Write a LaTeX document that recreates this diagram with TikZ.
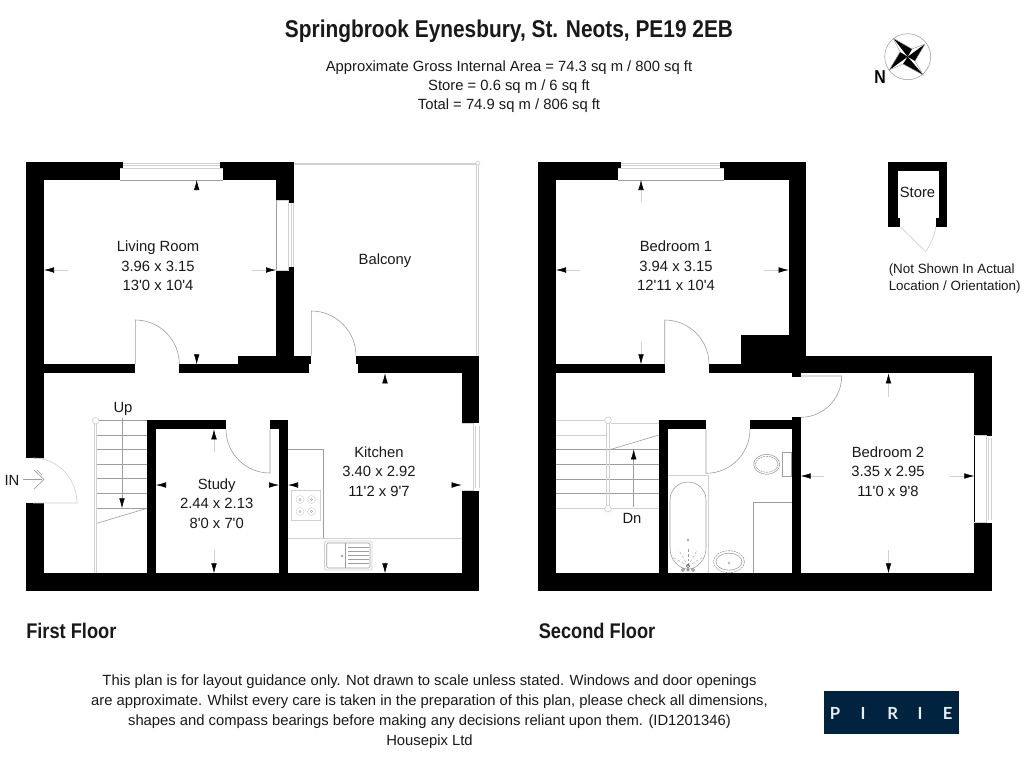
\documentclass[tikz,border=0pt]{standalone}
\usepackage{fontspec}
\usetikzlibrary{arrows.meta}
\newfontfamily\plainsans{Liberation Sans}
\newfontfamily\plainbold{Liberation Sans Bold}
\newfontfamily\logofont{Lato}
\definecolor{thinline}{gray}{0.62}
\definecolor{paleline}{gray}{0.82}
\definecolor{logoblue}{HTML}{00233F}
\newcommand{\wallrect}[4]{\fill[black] (#1,#2) rectangle (#3,#4);}
\newcommand{\gaprect}[4]{\fill[white] (#1,#2) rectangle (#3,#4);}
\newcommand{\dimarrow}[4]{\draw[dimline] (#1,#2) -- (#3,#4);}
\tikzset{
  x=0.75pt,y=-0.75pt,
  dimline/.style={draw=paleline,line width=0.4pt,-{Latex[black,length=7.5pt,width=4.2pt]}},
  thin line/.style={draw=thinline,line width=0.45pt},
  pale line/.style={draw=paleline,line width=0.5pt},
  room/.style={font=\plainsans\fontsize{11.1}{14.6}\selectfont,align=center,inner sep=0pt,text=black!90},
  notetext/.style={font=\plainsans\fontsize{10.05}{13.4}\selectfont,align=left,inner sep=0pt,text=black!90},
  head/.style={font=\plainsans\fontsize{11.1}{14.3}\selectfont,align=center,inner sep=0pt,text=black!90},
  floor/.style={font=\plainbold\fontsize{15.9}{18}\selectfont,inner sep=0pt,text=black!90},
  foot/.style={font=\plainsans\fontsize{11.1}{15}\selectfont,align=center,inner sep=0pt,text=black!90},
  logoletter/.style={font=\logofont\bfseries\fontsize{12.5}{13}\selectfont,text=white!92!logoblue,inner sep=0pt},
}
\begin{document}
\begin{tikzpicture}
\useasboundingbox (0,0) rectangle (1024,768);
\fill[white] (0,0) rectangle (1024,768);

% ---- First floor walls
\wallrect{26}{162.3}{44}{591}
\wallrect{26}{162.3}{293.7}{180}
\wallrect{276}{162.3}{293.7}{373.3}
\wallrect{44}{364.3}{135.3}{373.3}
\wallrect{179.3}{364.3}{237.7}{373.3}
\wallrect{237.7}{355.7}{308.7}{373.3}
\wallrect{293.7}{355.7}{311.3}{364.3}
\wallrect{358}{364}{479.3}{373.3}
\wallrect{356}{355.7}{479.3}{364.3}
\wallrect{461.7}{355.7}{479.3}{591}
\wallrect{26}{573.3}{479.3}{591}
\wallrect{147}{420.3}{156}{573.3}
\wallrect{147}{420.3}{226}{429.3}
\wallrect{270}{420.3}{288}{429.3}
\wallrect{279}{420.3}{288}{573.3}
% first floor openings
\gaprect{120}{168.3}{223}{180}
\gaprect{123.3}{162}{220}{168.3}
\draw[thin line] (120,180)--(223,180);
\draw[pale line] (123.3,163)--(220,163) (123.3,165.5)--(220,165.5) (120,168.3)--(223,168.3);
\gaprect{276.3}{200}{288}{270}
\gaprect{288}{203}{294}{267}
\draw[pale line] (276.3,200)--(288,200)--(288,270)--(276.3,270) (291,203)--(291,267) (293.7,203)--(293.7,267);
\draw[thin line] (276,200)--(276,270);
\gaprect{26}{458}{32}{503}
\gaprect{32}{458}{44}{503}
\draw[pale line] (33,458)--(44,458);
\gaprect{462}{423.3}{480}{490.7}
\draw[pale line] (461.7,423.3)--(473,423.3)--(473,490.7)--(461.7,490.7) (475.5,426)--(475.5,488) (479,426)--(479,488);
% balcony
\draw[pale line] (293.7,163)--(478,163) (293.7,164.5)--(476.5,164.5) (478,163)--(478,355.7) (476.5,164.5)--(476.5,355.7);
\draw[pale line,fill=white] (478,163) circle (2);
% doors
\draw[thin line] (135.3,364.3)--(135.3,320) .. controls (159.6,320) and (179.3,339.7) .. (179.3,364.3);
\draw[thin line] (311.3,355.7)--(311.3,311) .. controls (335.6,311) and (356,331) .. (356,355.7);
\draw[pale line] (33,503)--(77,503) .. controls (77,478) and (57.3,458) .. (33,458);
\draw[thin line] (270,429.3)--(270,473) .. controls (245.7,473) and (226,453.6) .. (226,429.3);
% stairs first floor
\draw[pale line] (94,573.3)--(94,423) (96.7,573.3)--(96.7,423);
\draw[thin line] (95.7,420.7)--(147,420.7);
\draw[paleline,line width=0.5pt,fill=white] (95.7,420.7) circle (3.3);
\foreach \yy in {435,449.3,464.3,478.7,493.3,508.3} {\draw[thin line] (97,\yy)--(147,\yy);}
\draw[thin line] (97,523.3)--(147,508.3);
\draw[draw=thinline,line width=0.4pt,-{Latex[black,length=7.5pt,width=4.2pt]}] (122,418)--(122,508.3);
% kitchen fittings
\draw[thin line] (288,449.3)--(323.3,449.3)--(323.3,538.3);
\draw[pale line] (288,538.3)--(461.7,538.3);
\draw[pale line] (291.7,490.7) rectangle (320.7,520);
\foreach \xx/\yy in {300/499.5,311.5/499.5,300/511.5,311.5/511.5} {
  \draw[paleline,line width=0.35pt] (\xx,\yy) circle (4);
  \draw[thinline,line width=0.3pt] (\xx,\yy) circle (1.2);
}
\draw[pale line,rounded corners=1.5pt] (324.5,541) rectangle (372,570);
\draw[thin line,rounded corners=1pt] (326.7,543) rectangle (370,568);
\draw[thin line] (345.7,543)--(345.7,568);
\foreach \yy in {547,551,555,559,563} {\draw[thin line] (348,\yy)--(369,\yy);}
\draw[thinline,line width=0.3pt] (342,556) circle (1);
% dimension arrows first floor
\dimarrow{196.7}{190}{196.7}{180}
\dimarrow{196.7}{354}{196.7}{364.3}
\dimarrow{68}{270}{44}{270}
\dimarrow{252}{270}{276}{270}
\dimarrow{214}{452}{214}{429.3}
\dimarrow{214}{550}{214}{573.3}
\dimarrow{167}{485}{156}{485}
\dimarrow{268}{485}{279}{485}
\dimarrow{385}{384}{385}{373.3}
\dimarrow{385}{562}{385}{573.3}
\dimarrow{299}{485}{288}{485}
\dimarrow{451}{485}{461.7}{485}
% IN arrow
\draw[thinline,line width=0.5pt] (23,479.5)--(42,479.5) (34,470)--(44,479.5)--(34,489) (37,470)--(42,475);

% ---- Second floor walls
\wallrect{538.3}{162.3}{556}{591}
\wallrect{538.3}{162.3}{806.3}{180}
\wallrect{788.7}{162.3}{806.3}{373.3}
\wallrect{741.3}{335}{806.3}{373.3}
\wallrect{556}{364.3}{664.7}{373.3}
\wallrect{709}{364.3}{741.3}{373.3}
\wallrect{791.7}{355.7}{991.7}{373.3}
\wallrect{791.7}{373}{800.7}{376.7}
\wallrect{974.3}{355.7}{991.7}{591}
\wallrect{538.3}{573.3}{991.7}{591}
\wallrect{659}{420}{667.7}{573.3}
\wallrect{659}{420}{705.7}{429.3}
\wallrect{750}{420}{791.7}{429.3}
\wallrect{791.7}{417.3}{800.7}{573.3}
% second floor openings
\gaprect{618}{168.3}{723.7}{180}
\gaprect{621.3}{162}{720.3}{168.3}
\draw[thin line] (618,180)--(723.7,180);
\draw[pale line] (621.3,163)--(720.3,163) (621.3,165.5)--(720.3,165.5) (618,168.3)--(723.7,168.3);
\gaprect{975}{435.7}{992}{522.7}
\draw[pale line] (974.3,435.7)--(986,435.7)--(986,522.7)--(974.3,522.7) (988.5,438)--(988.5,520) (991.5,438)--(991.5,520);
% doors
\draw[thin line] (664.7,364.3)--(664.7,320) .. controls (689,320) and (709,339.7) .. (709,364.3);
\draw[thin line] (800.7,376)--(841.7,376) .. controls (841.7,399) and (823,417.3) .. (800.7,417.3);
\draw[thin line] (706,429.3)--(706,473.3) .. controls (730.3,473.3) and (750,453.6) .. (750,429.3);
% stairs second floor
\draw[pale line] (556,420.3)--(605,420.3) (611,423)--(659,423) (556,435)--(606,435);
\foreach \yy in {449.3,464.3,479,493.3} {\draw[thin line] (556,\yy)--(659,\yy);}
\draw[pale line] (556,508.3)--(659,508.3);
\draw[thin line] (611,449.3)--(659,435);
\draw[paleline,line width=0.5pt] (606.2,420.3)--(606.2,508.7) (609.8,420.3)--(609.8,508.7);
\draw[paleline,line width=0.5pt,fill=white] (608,420.3) circle (3.3);
\draw[paleline,line width=0.5pt,fill=white] (608,508.7) circle (3.3);
\draw[draw=thinline,line width=0.4pt,-{Latex[black,length=7.5pt,width=4.2pt]}] (633.7,506.7)--(633.7,449.3);
% bathroom
\draw[pale line] (667.7,475)--(708.3,475)--(708.3,573.3);
\draw[thin line] (670,548) -- (670,500) .. controls (670,490) and (678,482) .. (688,482) .. controls (698,482) and (706,490) .. (706,500) -- (706,548) .. controls (706,560) and (697,569) .. (688,569) .. controls (679,569) and (670,560) .. (670,548) -- cycle;
\draw[thinline,line width=0.35pt] (688,540) circle (1.3);
\foreach \a in {-60,-30,0,30,60} {\draw[thinline,line width=0.3pt,dash pattern=on 2pt off 1.5pt] (688,566) -- ++({\a-90}:17);}
\draw[black!60,line width=0.4pt] (683,570) circle (1.5) (693,570) circle (1.5) (688,566) circle (1.7) (688,570) circle (1.2);
\draw[thin line,dash pattern=on 1.5pt off 0.6pt] (729,561.7) ellipse (15.5 and 11);
\draw[thin line] (729,561.7) ellipse (13 and 8.5);
\draw[thinline,line width=0.3pt] (729,563) circle (1.2);
\draw[thin line] (766.7,464.3) ellipse (13 and 10);
\draw[thin line,dash pattern=on 1.5pt off 0.6pt] (766.7,464.3) ellipse (11.3 and 8);
\draw[thin line] (782.3,452.3) rectangle (791.7,476);
\draw[thin line] (791.7,502.3)--(753.3,502.3)--(753.3,573.3);
% dimension arrows second floor
\dimarrow{641}{202}{641}{180}
\dimarrow{641}{342}{641}{364.3}
\dimarrow{580}{270}{556}{270}
\dimarrow{764}{270}{788.7}{270}
\dimarrow{888.5}{397}{888.5}{373.3}
\dimarrow{888.5}{550}{888.5}{573.3}
\dimarrow{824}{476}{800.7}{476}
\dimarrow{950}{476}{974.3}{476}

% ---- Store
\wallrect{888.3}{162.3}{947.3}{226.7}
\gaprect{897.7}{171}{938.7}{218.3}
\gaprect{900.3}{218}{935.7}{227}
\draw[pale line] (900.3,226.7)--(925.7,251.7) .. controls (930,245) and (935,236) .. (935.7,226.7);

% ---- Compass
\draw[thinline,line width=0.4pt] (907.7,56.7) circle (23);
\fill[black] (907.7,56.7)--(893.3,38.3)--(912,49)--cycle;
\fill[black] (907.7,56.7)--(925,44)--(915,61)--cycle;
\fill[black] (907.7,56.7)--(923.3,75)--(903,64)--cycle;
\fill[black] (907.7,56.7)--(889.3,70)--(900,52)--cycle;
\draw[thinline,line width=0.35pt] (893.3,38.3)--(900,52)--(889.3,70)--(903,64)--(923.3,75)--(915,61)--(925,44)--(912,49)--cycle;
\node[font=\plainbold\fontsize{14}{14}\selectfont,inner sep=0pt] (north) at (880,77) {\scalebox{0.85}[1]{N}};

% ---- Texts
\node[inner sep=0pt,font=\plainbold\fontsize{18.2}{20}\selectfont,text=black!90] (title) at (509,31) {\scalebox{0.86}[1]{Springbrook Eynesbury, St. Neots, PE19 2EB}};
\node[head] (area) at (509,86.5) {Approximate Gross Internal Area = 74.3 sq m / 800 sq ft\\Store = 0.6 sq m / 6 sq ft\\Total = 74.9 sq m / 806 sq ft};
\node[room] (living) at (158,266) {Living Room\\3.96 x 3.15\\13'0 x 10'4};
\node[room] (balcony) at (385,260.5) {Balcony};
\node[room] (kitchen) at (379,471.5) {Kitchen\\3.40 x 2.92\\11'2 x 9'7};
\node[room] (study) at (216.7,503.5) {Study\\2.44 x 2.13\\8'0 x 7'0};
\node[room] (up) at (123,408.5) {Up};
\node[room] (in) at (12,480.5) {IN};
\node[room] (bedone) at (676,266) {Bedroom 1\\3.94 x 3.15\\12'11 x 10'4};
\node[room] (bedtwo) at (888,471.5) {Bedroom 2\\3.35 x 2.95\\11'0 x 9'8};
\node[room] (dn) at (632,518.5) {Dn};
\node[room] (store) at (917.5,192) {Store};
\node[notetext,anchor=west] (note) at (888.5,278.5) {(Not Shown In Actual\\Location / Orientation)};
\node[floor,anchor=west] (ff) at (26,631) {\scalebox{0.86}[1]{First Floor}};
\node[floor,anchor=west] (sf) at (538.5,631) {\scalebox{0.86}[1]{Second Floor}};
\node[foot] (disclaimer) at (429.5,712) {This plan is for layout guidance only. Not drawn to scale unless stated. Windows and door openings\\are approximate. Whilst every care is taken in the preparation of this plan, please check all dimensions,\\shapes and compass bearings before making any decisions reliant upon them. (ID1201346)\\Housepix Ltd};

% ---- Logo
\fill[logoblue] (824,690.7) rectangle (959,734.3);
\node[logoletter] (lp) at (835,713) {P};
\node[logoletter] (li) at (863,713) {I};
\node[logoletter] (lr) at (892.7,713) {R};
\node[logoletter] (lj) at (920,713) {I};
\node[logoletter] (le) at (947.7,713) {E};
\end{tikzpicture}
\end{document}
